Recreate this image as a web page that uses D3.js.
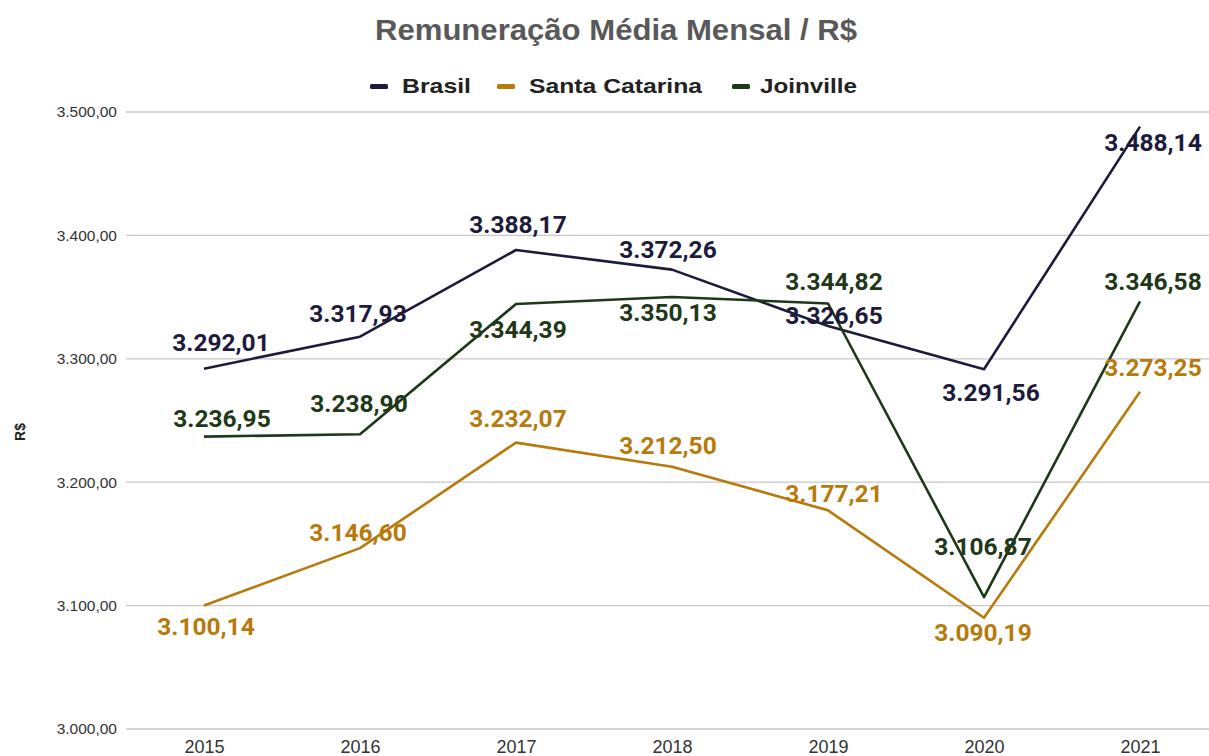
<!DOCTYPE html>
<html><head><meta charset="utf-8">
<script src="https://cdn.jsdelivr.net/npm/d3@7"></script>
<style>body{margin:0;background:#fff}svg{display:block}</style>
</head><body>
<svg id="chart" width="1209" height="756"></svg>
<script>
const years = ["2015","2016","2017","2018","2019","2020","2021"];
const brasil = [3292.01, 3317.93, 3388.17, 3372.26, 3326.65, 3291.56, 3488.14];
const santaCatarina = [3100.14, 3146.60, 3232.07, 3212.50, 3177.21, 3090.19, 3273.25];
const joinville = [3236.95, 3238.90, 3344.39, 3350.13, 3344.82, 3106.87, 3346.58];
const yTicks = [3000, 3100, 3200, 3300, 3400, 3500];
const seriesNames = ["Brasil", "Santa Catarina", "Joinville"];

// label placement (style, not data)
const labelOffsets = {
  "Brasil": [[17,-26],[-2,-23],[2,-26],[-4,-20],[6,-10],[7,23],[13,16]],
  "Santa Catarina": [[2,21],[-2,-16],[2,-24],[-4,-21],[6,-17],[-1,15],[13,-24]],
  "Joinville": [[18,-18],[-1,-31],[2,25],[-4,15],[6,-22],[-1,-51],[13,-20]]
};
const colors = {"Brasil":"#1d1b3c","Santa Catarina":"#b77a0b","Joinville":"#1e3818"};

const series = [
  {name:"Brasil", values:brasil},
  {name:"Santa Catarina", values:santaCatarina},
  {name:"Joinville", values:joinville}
];

const svg = d3.select("#chart");
const mLeft = 126, mRight = 1218, mTop = 112, mBottom = 729;
const x = d3.scalePoint().domain(years).range([mLeft, mRight]).padding(0.5);
const y = d3.scaleLinear().domain([3000, 3500]).range([mBottom, mTop]);
const fmt = v => d3.formatLocale({decimal:",", thousands:".", grouping:[3]}).format(",.2f")(v);

// grid
svg.append("g").selectAll("line").data(yTicks).join("line")
  .attr("x1", mLeft).attr("x2", 1209).attr("y1", d=>y(d)).attr("y2", d=>y(d))
  .attr("stroke", "#c8c8c8").attr("stroke-width", 1.3);

// y axis tick labels
const yAxis = d3.axisLeft(y).tickValues(yTicks).tickFormat(fmt).tickSize(0).tickPadding(9);
const gy = svg.append("g").attr("transform", `translate(${mLeft},0)`).call(yAxis);
gy.select(".domain").remove();
gy.selectAll("text").attr("font-family","Liberation Sans, Arial, sans-serif").attr("font-size","15.5px").attr("fill","#333");

// x axis labels
const xAxis = d3.axisBottom(x).tickSize(0).tickPadding(0);
const gx = svg.append("g").attr("transform", `translate(0,${mBottom})`).call(xAxis);
gx.select(".domain").remove();
gx.selectAll("text").attr("dy", null).attr("y", 24).attr("font-family","Liberation Sans, Arial, sans-serif").attr("font-size","18px").attr("fill","#333");

// y axis title
svg.append("text").attr("transform","translate(25,432) rotate(-90)")
  .attr("text-anchor","middle").attr("font-family","Liberation Sans, Arial, sans-serif")
  .attr("font-weight","bold").attr("font-size","14px").attr("fill","#222").text("R$");

// lines
const line = d3.line().x((d,i)=>x(years[i])).y(d=>y(d));
svg.append("g").selectAll("path").data(series).join("path")
  .attr("d", d=>line(d.values)).attr("fill","none")
  .attr("stroke", d=>colors[d.name]).attr("stroke-width", 2.6).attr("stroke-linejoin","round");

// labels
series.forEach(s => {
  svg.append("g").selectAll("text").data(s.values).join("text")
    .attr("x", (d,i)=>x(years[i]) + labelOffsets[s.name][i][0])
    .attr("y", (d,i)=>y(d) + labelOffsets[s.name][i][1])
    .attr("dy","0.35em").attr("text-anchor","middle")
    .attr("font-family","Roboto, sans-serif").attr("font-weight","bold").attr("font-size","24.5px")
    .attr("fill", colors[s.name]).text(d=>fmt(d));
});

// title
svg.append("text").attr("x", 375).attr("y", 40)
  .attr("font-family","Liberation Sans, Arial, sans-serif").attr("font-weight","bold")
  .attr("font-size","29px").attr("fill","#595959")
  .attr("textLength", 482).attr("lengthAdjust","spacingAndGlyphs")
  .text("Remuneração Média Mensal / R$");

// legend
const legendX = [370, 497, 732];
const legendTextW = [69, 173, 97];
const lg = svg.append("g");
seriesNames.forEach((n,i) => {
  lg.append("rect").attr("x", legendX[i]).attr("y", 84).attr("width", 18).attr("height", 5).attr("rx",1.5).attr("fill", colors[n]);
  lg.append("text").attr("x", legendX[i] + (i===2 ? 28 : 32)).attr("y", 93)
    .attr("font-family","Liberation Sans, Arial, sans-serif").attr("font-weight","bold")
    .attr("font-size","21px").attr("fill","#222")
    .attr("textLength", legendTextW[i]).attr("lengthAdjust","spacingAndGlyphs").text(n);
});
</script>
</body></html>
